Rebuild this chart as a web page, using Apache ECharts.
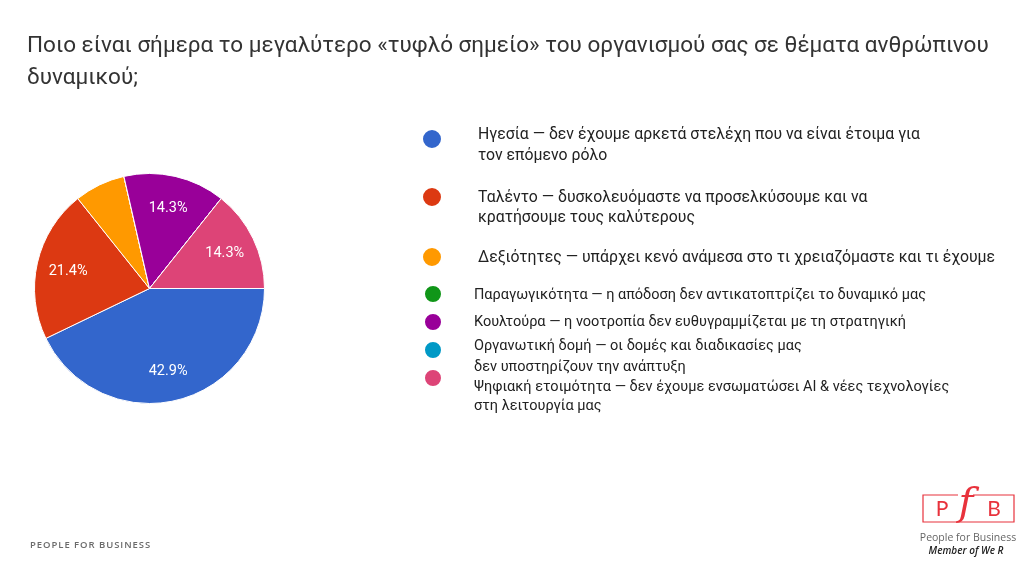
<!DOCTYPE html>
<html>
<head>
<meta charset="utf-8">
<script src="https://cdn.jsdelivr.net/npm/echarts@6/dist/echarts.min.js"></script>
<style>
html, body { margin: 0; padding: 0; background: #fff; }
#main { width: 1024px; height: 562px; }
</style>
</head>
<body>
<div id="main"></div>
<script>
// answers (legend order), wrapped as in the slide
var categories = [
  'Ηγεσία — δεν έχουμε αρκετά στελέχη που να είναι έτοιμα για\nτον επόμενο ρόλο',
  'Ταλέντο — δυσκολευόμαστε να προσελκύσουμε και να\nκρατήσουμε τους καλύτερους',
  'Δεξιότητες — υπάρχει κενό ανάμεσα στο τι χρειαζόμαστε και τι έχουμε',
  'Παραγωγικότητα — η απόδοση δεν αντικατοπτρίζει το δυναμικό μας',
  'Κουλτούρα — η νοοτροπία δεν ευθυγραμμίζεται με τη στρατηγική',
  'Οργανωτική δομή — οι δομές και διαδικασίες μας\nδεν υποστηρίζουν την ανάπτυξη',
  'Ψηφιακή ετοιμότητα — δεν έχουμε ενσωματώσει AI & νέες τεχνολογίες\nστη λειτουργία μας'
];
// number of answers (14 in total)
var values = [6, 3, 1, 0, 2, 0, 2];
var colors = ['#3366cc', '#dc3912', '#ff9900', '#109618', '#990099', '#0099c6', '#dd4477'];

var titleText = 'Ποιο είναι σήμερα το μεγαλύτερο «τυφλό σημείο» του οργανισμού σας σε θέματα ανθρώπινου\nδυναμικού;';

// legend placement: icon centre y, first text line centre y, line height, icon size, font size
var legendLayout = [
  { c: 139, line1: 134, L: 21, size: 20, font: 15.8, iconX: 431, textX: 477 },
  { c: 197, line1: 197, L: 20, size: 20, font: 15.8, iconX: 431, textX: 477 },
  { c: 257, line1: 257, L: 20, size: 20, font: 15.8, iconX: 431, textX: 477 },
  { c: 294, line1: 294, L: 20, size: 18, font: 14.5, iconX: 432, textX: 473 },
  { c: 322, line1: 321, L: 20, size: 18, font: 14.5, iconX: 432, textX: 473 },
  { c: 350, line1: 345, L: 21, size: 18, font: 14.5, iconX: 432, textX: 473 },
  { c: 378, line1: 386, L: 19, size: 18, font: 14.5, iconX: 432, textX: 473 }
];

var font = 'Roboto, "Noto Sans", sans-serif';

var pieData = categories.map(function (name, i) {
  return { name: name, value: values[i], itemStyle: { color: colors[i] } };
});

// each legend item gets its own box; an empty spacer line moves the text
// block up or down relative to the dot
var legends = legendLayout.map(function (lay, i) {
  var lines = categories[i].split('\n');
  var n = lines.length;
  var diff = Math.round(2 * (lay.line1 + 1.5 - lay.c) + (n - 1) * lay.L);
  var gap = Math.abs(diff);
  var boxY = lay.c - (n * lay.L + gap) / 2;
  var top = Math.min(lay.c - lay.size / 2, boxY);
  var iconLeft = lay.iconX - lay.size / 2;
  var textPad = lay.textX - (iconLeft + lay.size + 5);
  return {
    orient: 'vertical',
    left: iconLeft,
    top: top,
    padding: 0,
    icon: 'circle',
    itemWidth: lay.size,
    itemHeight: lay.size,
    selectedMode: false,
    data: [{ name: categories[i], itemStyle: { color: colors[i] } }],
    formatter: function (name) {
      var body = name.split('\n').map(function (l) { return '{t|' + l + '}'; }).join('\n');
      if (gap < 1) return body;
      return diff > 0 ? '{g| }\n' + body : body + '\n{g| }';
    },
    textStyle: {
      fontFamily: font,
      fontSize: lay.font,
      lineHeight: lay.L,
      color: '#222',
      rich: {
        t: { fontFamily: font, fontSize: lay.font, lineHeight: lay.L, color: '#222', padding: [0, 0, 0, textPad] },
        g: { fontSize: 1, lineHeight: Math.max(gap, 1) }
      }
    }
  };
});

var chart = echarts.init(document.getElementById('main'));
chart.setOption({
  backgroundColor: '#fff',
  animation: false,
  title: {
    text: titleText,
    left: 27,
    top: 30,
    padding: 0,
    textStyle: {
      fontFamily: font,
      fontSize: 22.5,
      fontWeight: 'normal',
      lineHeight: 32,
      color: '#333'
    }
  },
  legend: legends,
  series: [
    {
      type: 'pie',
      center: [149.5, 288.5],
      radius: [0, 115],
      startAngle: 0,
      clockwise: true,
      avoidLabelOverlap: false,
      data: pieData,
      label: { show: false },
      labelLine: { show: false },
      itemStyle: { borderColor: '#fff', borderWidth: 1 },
      emphasis: { disabled: true }
    },
    {
      // transparent ring only used to place the percent labels further out
      type: 'pie',
      center: [149.5, 290],
      radius: [46, 115],
      startAngle: 0,
      clockwise: true,
      silent: true,
      avoidLabelOverlap: false,
      data: pieData.map(function (d) { return { name: d.name, value: d.value }; }),
      itemStyle: { color: 'rgba(0,0,0,0)', borderWidth: 0 },
      labelLine: { show: false },
      label: {
        show: true,
        position: 'inside',
        color: '#fff',
        fontFamily: font,
        fontSize: 14.5,
        formatter: function (p) {
          return p.percent >= 10 ? p.percent.toFixed(1) + '%' : '';
        }
      },
      emphasis: { disabled: true }
    }
  ],
  graphic: [
    {
      type: 'text',
      left: 30,
      top: 540,
      style: {
        text: 'PEOPLE FOR BUSINESS'.split('').join('\u200A'),
        font: '600 9.5px "Open Sans", sans-serif',
        fill: '#6b6b6b'
      }
    },
    {
      type: 'group',
      children: [
        { type: 'rect', shape: { x: 923, y: 495, width: 91, height: 27 },
          style: { fill: 'none', stroke: '#e8323c', lineWidth: 1.2 } },
        { type: 'line', shape: { x1: 958, y1: 495, x2: 973, y2: 495 },
          style: { stroke: '#fff', lineWidth: 3 } },
        { type: 'text', style: { x: 942, y: 509, text: 'P', align: 'center', verticalAlign: 'middle',
          font: '21px Lato, sans-serif', fill: '#e8323c' } },
        { type: 'text', style: { x: 994, y: 509, text: 'B', align: 'center', verticalAlign: 'middle',
          font: '21px Lato, sans-serif', fill: '#e8323c' } },
        { type: 'text', style: { x: 966, y: 505, text: 'f', align: 'center', verticalAlign: 'middle',
          font: 'italic 40px "DejaVu Serif", serif', fill: '#e8323c' } },
        { type: 'text', style: { x: 968, y: 538, text: 'People for Business', align: 'center', verticalAlign: 'middle',
          font: '10.5px "Open Sans", sans-serif', fill: '#666' } },
        { type: 'text', style: { x: 966, y: 551, text: 'Member of We R', align: 'center', verticalAlign: 'middle',
          font: 'italic 600 10px "Open Sans", sans-serif', fill: '#222' } }
      ]
    }
  ]
});
</script>
</body>
</html>
